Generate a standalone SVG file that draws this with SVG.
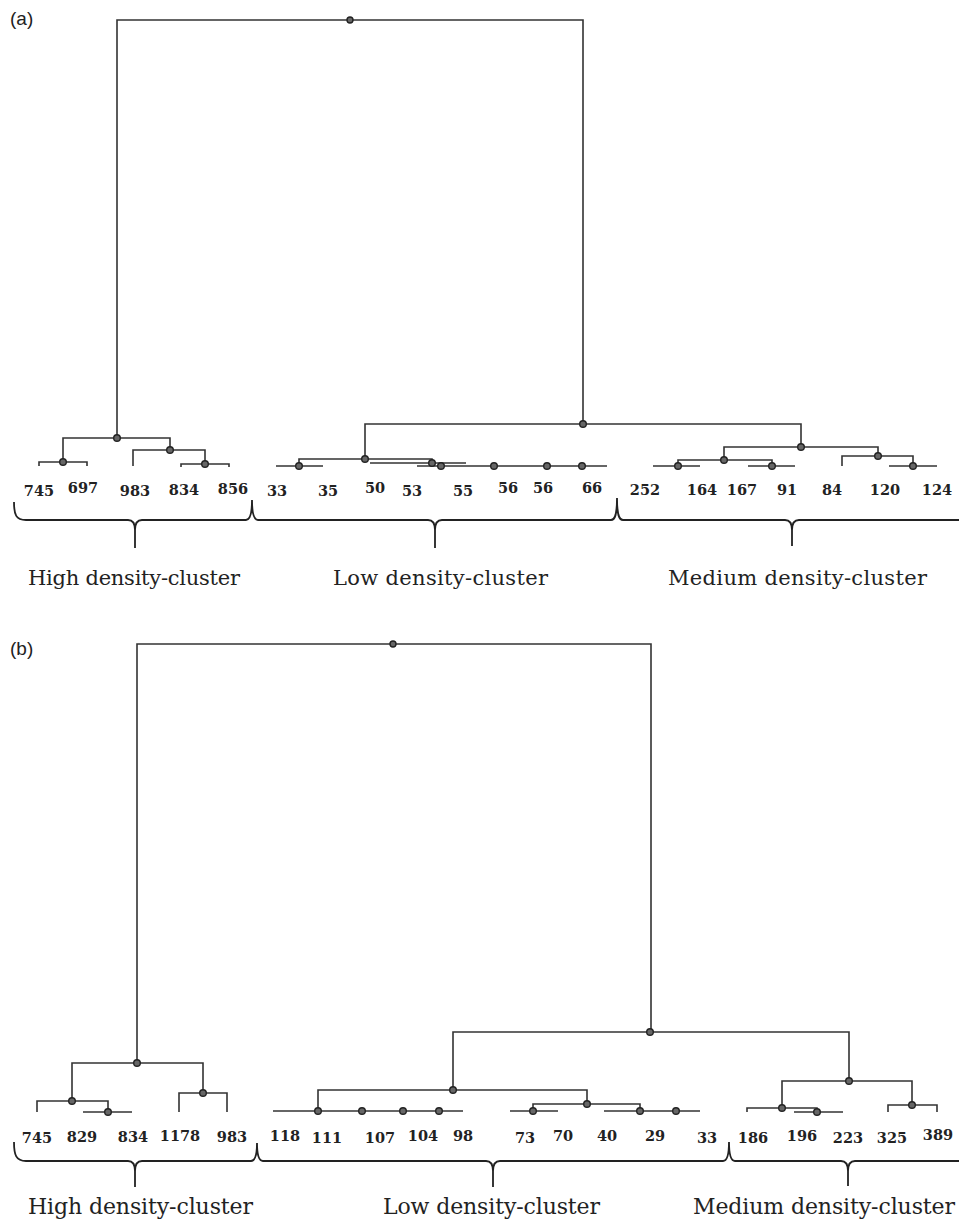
<svg xmlns="http://www.w3.org/2000/svg" width="959" height="1224" viewBox="0 0 959 1224">
<style>
.ln{fill:none;stroke:#333;stroke-width:1.6}
.br{fill:none;stroke:#222;stroke-width:1.8}
.nd{fill:#666;stroke:#222;stroke-width:1.4}
.num{font-family:"DejaVu Serif","Liberation Serif",serif;font-weight:bold;font-size:14.5px;fill:#222;text-anchor:middle}
.cl{font-family:"DejaVu Serif","Liberation Serif",serif;font-size:21px;fill:#222}
.pl{font-family:"Liberation Sans",Arial,sans-serif;font-size:19px;fill:#222}
</style>
<rect width="959" height="1224" fill="#fff"/>
<text class="pl" x="10" y="25">(a)</text>
<text class="pl" x="10" y="655">(b)</text>

<g id="connectors">
<g id="conn-a">
<path class="ln" d="M117,438 V20 H583 V424"/>
<path class="ln" d="M63,462 V438 H170 V450"/>
<path class="ln" d="M39,466 V462 H87 V466"/>
<path class="ln" d="M133,466 V450 H205 V464"/>
<path class="ln" d="M181,467 V464 H229 V467"/>
<path class="ln" d="M365,459 V424 H801 V447"/>
<path class="ln" d="M299,466 V459 H432 V463"/>
<path class="ln" d="M276,466 H323"/>
<path class="ln" d="M370,463 H466"/>
<path class="ln" d="M417,466 H607"/>
<path class="ln" d="M724,460 V447 H878 V456"/>
<path class="ln" d="M678,466 V460 H772 V466"/>
<path class="ln" d="M653,466 H700"/>
<path class="ln" d="M748,466 H795"/>
<path class="ln" d="M842,466 V456 H913 V466"/>
<path class="ln" d="M889,466 H937"/>
</g>
<g id="conn-b">
<path class="ln" d="M137,1063 V644 H651 V1032"/>
<path class="ln" d="M72,1101 V1063 H203 V1093"/>
<path class="ln" d="M37,1112 V1101 H108 V1112"/>
<path class="ln" d="M83,1112 H132"/>
<path class="ln" d="M179,1112 V1093 H227 V1112"/>
<path class="ln" d="M453,1090 V1032 H849 V1081"/>
<path class="ln" d="M318,1111 V1090 H587 V1104"/>
<path class="ln" d="M273,1111 H463"/>
<path class="ln" d="M533,1111 V1104 H640 V1111"/>
<path class="ln" d="M510,1111 H558"/>
<path class="ln" d="M604,1111 H700"/>
<path class="ln" d="M782,1108 V1081 H912 V1105"/>
<path class="ln" d="M747,1112 V1108 H817 V1112"/>
<path class="ln" d="M794,1112 H843"/>
<path class="ln" d="M888,1112 V1105 H937 V1112"/>
</g>
<g id="braces">
<path class="br" d="M14,502 C14,515 16,520 26,520 L128,520 C133,520 135,523 135,530 L135,548 M135,530 C135,523 137,520 142,520 L246,520 C250,520 252,515 252,500 C252,515 254,520 258,520 L428,520 C433,520 435,523 435,530 L435,548 M435,530 C435,523 437,520 442,520 L611,520 C615,520 617,515 617,498 C617,515 619,520 623,520 L785,520 C790,520 792,523 792,530 L792,546 M792,530 C792,523 794,520 799,520 L959,520"/>
<path class="br" d="M14,1142 C14,1155 16,1161 26,1161 L128,1161 C133,1161 135,1164 135,1171 L135,1187 M135,1171 C135,1164 137,1161 142,1161 L251,1161 C255,1161 257,1156 257,1143 C257,1156 259,1161 263,1161 L486,1161 C491,1161 493,1164 493,1171 L493,1187 M493,1171 C493,1164 495,1161 500,1161 L723,1161 C727,1161 729,1156 729,1142 C729,1156 731,1161 735,1161 L841,1161 C846,1161 848,1164 848,1171 L848,1186 M848,1171 C848,1164 850,1161 855,1161 L959,1161"/>
</g>
</g>

<g id="nodes-a">
<g id="a-root"><circle class="nd" cx="350" cy="20" r="3"/></g>
<g id="a-high"><circle class="nd" cx="117" cy="438" r="3.3"/></g>
<g id="a-h1"><circle class="nd" cx="63" cy="462" r="3.3"/></g>
<g id="a-h2"><circle class="nd" cx="170" cy="450" r="3.3"/></g>
<g id="a-h3"><circle class="nd" cx="205" cy="464" r="3.3"/></g>
<g id="a-lm"><circle class="nd" cx="583" cy="424" r="3.3"/></g>
<g id="a-low"><circle class="nd" cx="365" cy="459" r="3.3"/></g>
<g id="a-l1"><circle class="nd" cx="299" cy="466" r="3.3"/></g>
<g id="a-l2"><circle class="nd" cx="432" cy="463" r="3.3"/></g>
<g id="a-l3"><circle class="nd" cx="441" cy="466" r="3.3"/></g>
<g id="a-l4"><circle class="nd" cx="494" cy="466" r="3.3"/></g>
<g id="a-l5"><circle class="nd" cx="547" cy="466" r="3.3"/></g>
<g id="a-l6"><circle class="nd" cx="582" cy="466" r="3.3"/></g>
<g id="a-med"><circle class="nd" cx="801" cy="447" r="3.3"/></g>
<g id="a-m1"><circle class="nd" cx="724" cy="460" r="3.3"/></g>
<g id="a-m2"><circle class="nd" cx="678" cy="466" r="3.3"/></g>
<g id="a-m3"><circle class="nd" cx="772" cy="466" r="3.3"/></g>
<g id="a-m4"><circle class="nd" cx="878" cy="456" r="3.3"/></g>
<g id="a-m5"><circle class="nd" cx="913" cy="466" r="3.3"/></g>
</g>

<g id="nodes-b">
<g id="b-root"><circle class="nd" cx="393" cy="644" r="3"/></g>
<g id="b-high"><circle class="nd" cx="137" cy="1063" r="3.3"/></g>
<g id="b-h1"><circle class="nd" cx="72" cy="1101" r="3.3"/></g>
<g id="b-h2"><circle class="nd" cx="108" cy="1112" r="3.3"/></g>
<g id="b-h3"><circle class="nd" cx="203" cy="1093" r="3.3"/></g>
<g id="b-lm"><circle class="nd" cx="650" cy="1032" r="3.3"/></g>
<g id="b-low"><circle class="nd" cx="453" cy="1090" r="3.3"/></g>
<g id="b-l1"><circle class="nd" cx="318" cy="1111" r="3.3"/></g>
<g id="b-l2"><circle class="nd" cx="362" cy="1111" r="3.3"/></g>
<g id="b-l3"><circle class="nd" cx="403" cy="1111" r="3.3"/></g>
<g id="b-l4"><circle class="nd" cx="439" cy="1111" r="3.3"/></g>
<g id="b-l5"><circle class="nd" cx="587" cy="1104" r="3.3"/></g>
<g id="b-l6"><circle class="nd" cx="533" cy="1111" r="3.3"/></g>
<g id="b-l7"><circle class="nd" cx="640" cy="1111" r="3.3"/></g>
<g id="b-l8"><circle class="nd" cx="676" cy="1111" r="3.3"/></g>
<g id="b-med"><circle class="nd" cx="849" cy="1081" r="3.3"/></g>
<g id="b-m1"><circle class="nd" cx="782" cy="1108" r="3.3"/></g>
<g id="b-m2"><circle class="nd" cx="817" cy="1112" r="3.3"/></g>
<g id="b-m3"><circle class="nd" cx="912" cy="1105" r="3.3"/></g>
</g>

<g id="labels-a">
<text class="num" x="39" y="496">745</text>
<text class="num" x="83" y="493">697</text>
<text class="num" x="135" y="496">983</text>
<text class="num" x="184" y="495">834</text>
<text class="num" x="233" y="494">856</text>
<text class="num" x="277" y="496">33</text>
<text class="num" x="328" y="496">35</text>
<text class="num" x="375" y="493">50</text>
<text class="num" x="412" y="496">53</text>
<text class="num" x="463" y="496">55</text>
<text class="num" x="508" y="493">56</text>
<text class="num" x="543" y="493">56</text>
<text class="num" x="592" y="493">66</text>
<text class="num" x="645" y="495">252</text>
<text class="num" x="702" y="495">164</text>
<text class="num" x="742" y="495">167</text>
<text class="num" x="787" y="495">91</text>
<text class="num" x="832" y="495">84</text>
<text class="num" x="885" y="495">120</text>
<text class="num" x="937" y="495">124</text>
<text class="cl" x="28" y="585" textLength="212">High density-cluster</text>
<text class="cl" x="333" y="585" textLength="215">Low density-cluster</text>
<text class="cl" x="668" y="585" textLength="259">Medium density-cluster</text>
</g>

<g id="labels-b">
<text class="num" x="37" y="1143">745</text>
<text class="num" x="82" y="1142">829</text>
<text class="num" x="133" y="1142">834</text>
<text class="num" x="180" y="1141">1178</text>
<text class="num" x="232" y="1142">983</text>
<text class="num" x="285" y="1141">118</text>
<text class="num" x="327" y="1143">111</text>
<text class="num" x="380" y="1143">107</text>
<text class="num" x="423" y="1141">104</text>
<text class="num" x="463" y="1141">98</text>
<text class="num" x="525" y="1143">73</text>
<text class="num" x="563" y="1141">70</text>
<text class="num" x="607" y="1141">40</text>
<text class="num" x="655" y="1141">29</text>
<text class="num" x="707" y="1143">33</text>
<text class="num" x="753" y="1143">186</text>
<text class="num" x="802" y="1141">196</text>
<text class="num" x="848" y="1143">223</text>
<text class="num" x="892" y="1143">325</text>
<text class="num" x="938" y="1140">389</text>
<text class="cl" x="28" y="1214" textLength="225" style="font-size:22px">High density-cluster</text>
<text class="cl" x="383" y="1214" textLength="217" style="font-size:22px">Low density-cluster</text>
<text class="cl" x="693" y="1214" textLength="262" style="font-size:22px">Medium density-cluster</text>
</g>
</svg>
